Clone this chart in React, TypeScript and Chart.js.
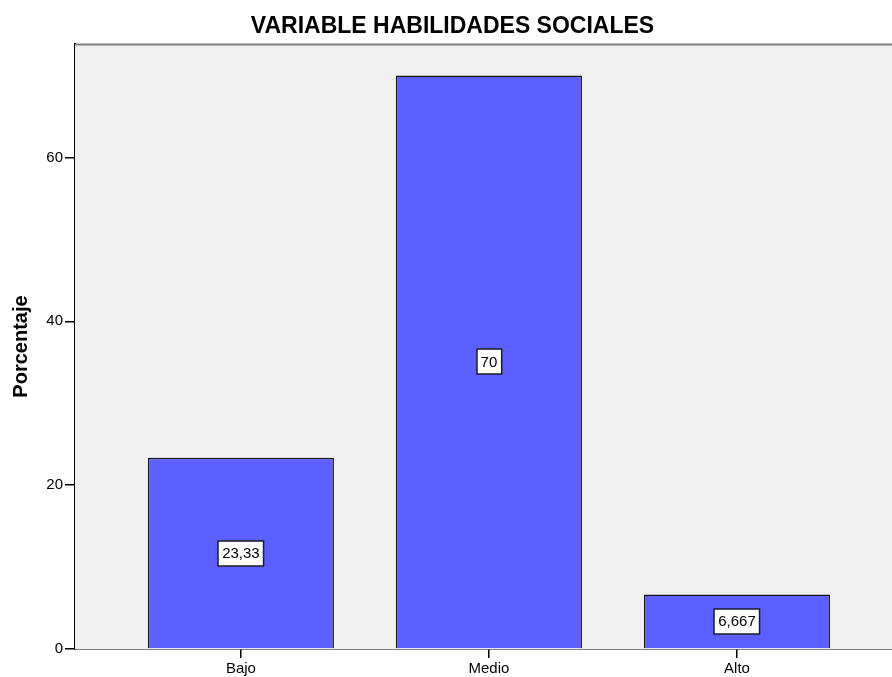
import React, { useEffect, useRef } from "react";
import { Chart, registerables } from "chart.js";

Chart.register(...registerables);

const TITLE = "VARIABLE HABILIDADES SOCIALES";
const Y_TITLE = "Porcentaje";
const CATEGORIES = ["Bajo", "Medio", "Alto"];
const VALUES = [23.33, 70, 6.667];
const Y_TICKS = [0, 20, 40, 60];

const FONT = "'Liberation Sans', Arial, sans-serif";

const fmt = (v: number) => String(v).replace(".", ",");

const bgPlugin = {
  id: "bgPlugin",
  beforeDatasetsDraw(chart: any) {
    const { ctx, chartArea } = chart;
    ctx.save();
    ctx.fillStyle = "#f0f0f0";
    ctx.fillRect(chartArea.left, chartArea.top, chartArea.right - chartArea.left, chartArea.bottom - chartArea.top);
    ctx.strokeStyle = "#808080";
    ctx.lineWidth = 2;
    ctx.beginPath();
    ctx.moveTo(chartArea.left, chartArea.top + 0.5);
    ctx.lineTo(chartArea.right, chartArea.top + 0.5);
    ctx.stroke();
    ctx.restore();
  },
};

const titlePlugin = {
  id: "titlePlugin",
  afterDraw(chart: any) {
    const { ctx } = chart;
    ctx.save();
    ctx.font = `bold 23px ${FONT}`;
    ctx.fillStyle = "#000";
    ctx.textAlign = "center";
    ctx.textBaseline = "alphabetic";
    ctx.fillText(TITLE, 452.5, 33);
    ctx.restore();
  },
};

const labelPlugin = {
  id: "labelPlugin",
  afterDatasetsDraw(chart: any) {
    const { ctx } = chart;
    const meta = chart.getDatasetMeta(0);
    ctx.save();
    ctx.font = `15px ${FONT}`;
    meta.data.forEach((bar: any, i: number) => {
      const text = fmt(VALUES[i]);
      const cy = (bar.y + bar.base) / 2;
      const w = ctx.measureText(text).width + 8;
      const h = 25;
      const x0 = Math.round(bar.x - w / 2);
      const y0 = Math.round(cy - h / 2);
      ctx.fillStyle = "#ffffff";
      ctx.fillRect(x0, y0, w, h);
      ctx.strokeStyle = "#1a1a2a";
      ctx.lineWidth = 1.5;
      ctx.strokeRect(x0, y0, w, h);
      ctx.fillStyle = "#000";
      ctx.textAlign = "center";
      ctx.textBaseline = "middle";
      ctx.fillText(text, bar.x, cy + 1);
    });
    ctx.restore();
  },
};

export default function App() {
  const ref = useRef<HTMLCanvasElement | null>(null);

  useEffect(() => {
    if (!ref.current) return;
    const chart = new Chart(ref.current, {
      type: "bar",
      data: {
        datasets: [
          {
            data: VALUES.map((v, i) => ({ x: i, y: v })),
            backgroundColor: "#5c60ff",
            borderColor: "#151515",
            borderWidth: 1.5,
            categoryPercentage: 1,
            barPercentage: 0.75,
          },
        ],
      },
      options: {
        animation: false,
        responsive: false,
        layout: { padding: { top: 44, right: 0, left: 0, bottom: 0 } },
        plugins: {
          legend: { display: false },
          tooltip: { enabled: false },
          title: { display: false },
        },
        scales: {
          x: {
            type: "linear",
            offset: false,
            min: -0.669,
            max: 2.625,
            afterBuildTicks: (scale: any) => {
              scale.ticks = CATEGORIES.map((_, i) => ({ value: i }));
            },
            afterFit: (scale: any) => {
              scale.height = 28;
            },
            ticks: {
              callback: (v: any) => CATEGORIES[Number(v)] ?? "",
              color: "#000",
              font: { size: 15, family: FONT },
              padding: 2,
              maxRotation: 0,
              autoSkip: false,
            },
            grid: {
              display: true,
              offset: false,
              drawOnChartArea: false,
              drawTicks: true,
              tickLength: 9,
              color: "#000",
              lineWidth: 1.5,
            },
            border: { display: true, color: "#000", width: 1.5 },
          },
          y: {
            type: "linear",
            min: 0,
            max: 73.85,
            afterBuildTicks: (scale: any) => {
              scale.ticks = Y_TICKS.map((v) => ({ value: v }));
            },
            afterFit: (scale: any) => {
              scale.width = 75;
            },
            ticks: {
              color: "#000",
              font: { size: 15, family: FONT },
              padding: 2,
              callback: (v: any) => String(v),
            },
            grid: {
              display: true,
              drawOnChartArea: false,
              drawTicks: true,
              tickLength: 10,
              color: "#000",
              lineWidth: 1.5,
            },
            border: { display: true, color: "#000", width: 2 },
            title: {
              display: true,
              text: Y_TITLE,
              color: "#000",
              font: { size: 20, weight: "bold", family: FONT },
              padding: { top: 9, bottom: 0 },
            },
          },
        },
      },
      plugins: [bgPlugin, labelPlugin, titlePlugin],
    } as any);
    return () => chart.destroy();
  }, []);

  return (
    <div style={{ position: "fixed", left: 0, top: 0, width: 892, height: 677, background: "#fff" }}>
      <canvas ref={ref} width={892} height={677} style={{ display: "block" }} />
    </div>
  );
}
